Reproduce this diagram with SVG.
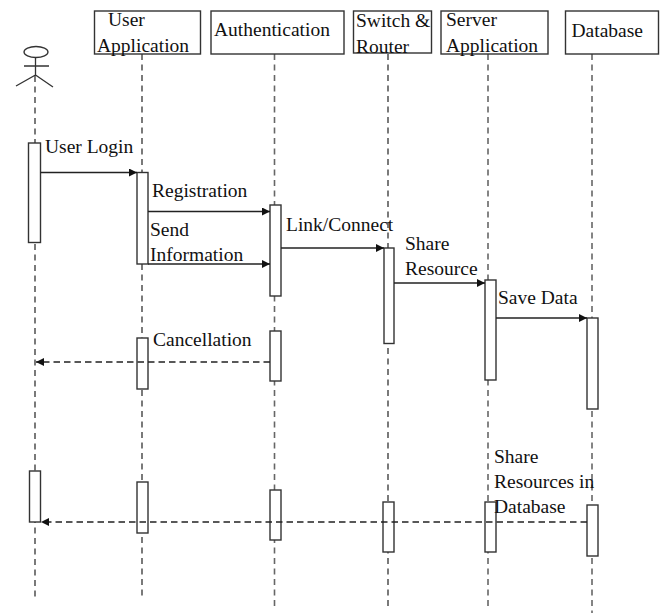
<svg xmlns="http://www.w3.org/2000/svg" width="661" height="614" viewBox="0 0 661 614">
<style>
text{font-family:"Liberation Serif","Times New Roman",serif;font-size:19.5px;fill:#111}
.box{fill:#fff;stroke:#333;stroke-width:1.4}
.life{fill:none;stroke:#222;stroke-width:1.2;stroke-dasharray:6 4.5}
.life.g{stroke:#666;stroke-width:1.6}
.act{fill:#fff;stroke:#333;stroke-width:1.4}
.msg{fill:none;stroke:#222;stroke-width:1.3;marker-end:url(#arr)}
.ret{stroke-dasharray:6.5 4}
.fig{fill:none;stroke:#333;stroke-width:1.3}
</style>
<defs>
<marker id="arr" markerUnits="userSpaceOnUse" markerWidth="9" markerHeight="9" refX="8" refY="4" orient="auto"><path d="M0 0L8 4L0 8Z" fill="#111"/></marker>
</defs>
<rect width="661" height="614" fill="#fff"/>
<g id="lifelines">
<path class="life" d="M35 76V597"/>
<path class="life" d="M142 54V597"/>
<path class="life g" d="M274.500 54V610"/>
<path class="life" d="M388 54V610"/>
<path class="life g" d="M488 54V610"/>
<path class="life g" d="M592 54V613"/>
</g>
<g id="actor">
<ellipse class="fig" cx="36" cy="52" rx="12" ry="5.500"/>
<path class="fig" d="M35.500 58V76M24 66H49M16 86L35.500 75L53 87"/>
</g>
<g id="node-user-application"><rect class="box" x="94.500" y="11" width="106" height="43"/><text x="108" y="26">User</text><text x="97" y="52">Application</text></g>
<g id="node-authentication"><rect class="box" x="211" y="11" width="133" height="43"/><text x="214" y="36">Authentication</text></g>
<g id="node-switch-router"><rect class="box" x="353.500" y="11" width="78" height="42"/><text x="356" y="27">Switch &amp;</text><text x="356" y="53">Router</text></g>
<g id="node-server-application"><rect class="box" x="441" y="11" width="107" height="43"/><text x="446" y="26">Server</text><text x="446" y="52">Application</text></g>
<g id="node-database"><rect class="box" x="565.500" y="11" width="93" height="43"/><text x="571.500" y="37">Database</text></g>
<g id="activations">
<rect class="act" x="28.500" y="143" width="12" height="99.500"/>
<rect class="act" x="137" y="172.500" width="11" height="91.500"/>
<rect class="act" x="270" y="205" width="11" height="91"/>
<rect class="act" x="384" y="248" width="10" height="95.500"/>
<rect class="act" x="485" y="280" width="11" height="100"/>
<rect class="act" x="587" y="318" width="11" height="91"/>
<rect class="act" x="137" y="338" width="11" height="51"/>
<rect class="act" x="270" y="331" width="11" height="50"/>
<rect class="act" x="29.500" y="471" width="11" height="51"/>
<rect class="act" x="137" y="482" width="11" height="51"/>
<rect class="act" x="270" y="490" width="11" height="50"/>
<rect class="act" x="383" y="502" width="11" height="50"/>
<rect class="act" x="485" y="502" width="11" height="50"/>
<rect class="act" x="587" y="505" width="11" height="51"/>
</g>
<g id="connectors">
<path class="msg" d="M40.500 172.500H137"/>
<path class="msg" d="M148 211.500H270"/>
<path class="msg" d="M148 264H270"/>
<path class="msg" d="M281 248H384"/>
<path class="msg" d="M394 283H485"/>
<path class="msg" d="M496 318H587"/>
<path class="msg ret" d="M270 362H36"/>
<path class="msg ret" d="M587 522H41"/>
</g>
<g id="labels">
<text x="45" y="153">User Login</text>
<text x="152" y="197">Registration</text>
<text x="150" y="236">Send</text>
<text x="150" y="261">Information</text>
<text x="286" y="231">Link/Connect</text>
<text x="405" y="250">Share</text>
<text x="405" y="275">Resource</text>
<text x="498" y="304">Save Data</text>
<text x="153" y="346">Cancellation</text>
<text x="494" y="463">Share</text>
<text x="494" y="488">Resources in</text>
<text x="494" y="513">Database</text>
</g>
</svg>
